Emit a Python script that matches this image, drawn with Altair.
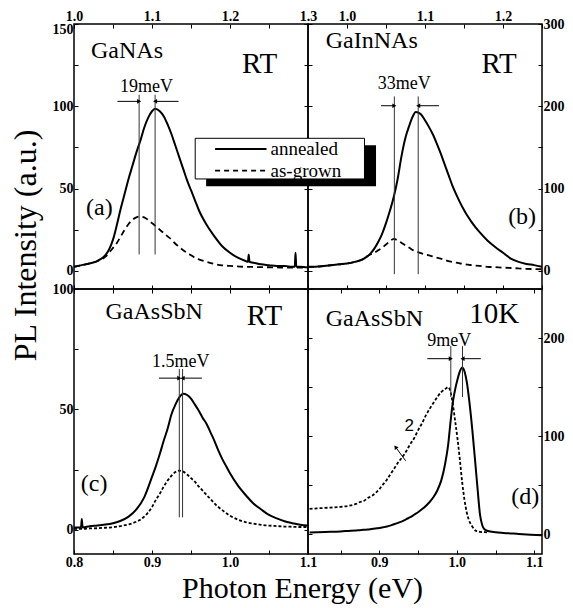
import altair as alt
import pandas as pd

SERIF = "Liberation Serif"

# ---------------- data ----------------
# (a) GaNAs, RT  (top axis 1.0-1.3 eV, left axis 0-150)
a_energy = [1.000, 1.010, 1.020, 1.030, 1.040, 1.045, 1.050, 1.055, 1.060, 1.065,
            1.070, 1.075, 1.080, 1.085, 1.090, 1.095, 1.100, 1.104, 1.110, 1.115,
            1.120, 1.125, 1.130, 1.135, 1.140, 1.145, 1.150, 1.155, 1.160, 1.170,
            1.180, 1.190, 1.200, 1.210, 1.220, 1.223, 1.224, 1.225, 1.230, 1.240,
            1.250, 1.260, 1.270, 1.280, 1.283, 1.284, 1.285, 1.290, 1.300]
a_annealed = [2.5, 3.5, 4.5, 6, 9.5, 13, 19, 28, 38, 47,
              56, 64, 72, 79, 87, 93, 97, 98.5, 97, 94,
              89, 83, 76, 69, 62, 55, 49, 43, 37, 28,
              21, 15, 11, 8, 6, 5.5, 10, 5.5, 5, 4,
              3.5, 3, 3, 2.5, 2.5, 11, 2.5, 2.5, 2]
a_asgrown = [2.5, 3.5, 4.5, 6, 8.5, 11, 14, 17, 21, 25,
             28.5, 31, 32.5, 33, 32.5, 31, 29, 27.5, 25, 23,
             21, 19, 16.5, 14.5, 12.5, 11, 9.5, 8, 7, 5.5,
             4.2, 3.4, 3, 2.7, 2.5, 2.5, 2.5, 2.5, 2.4, 2.3,
             2.2, 2.1, 2, 2, 2, 2, 2, 2, 2]

# (b) GaInNAs, RT  (top axis, right axis 0-300)
b_energy = [0.950, 0.960, 0.970, 0.980, 0.990, 1.000, 1.010, 1.020, 1.025, 1.030,
            1.035, 1.040, 1.045, 1.050, 1.055, 1.060, 1.065, 1.070, 1.075, 1.080,
            1.085, 1.088, 1.092, 1.095, 1.100, 1.105, 1.110, 1.115, 1.120, 1.125,
            1.130, 1.135, 1.140, 1.145, 1.150, 1.155, 1.160, 1.170, 1.180, 1.190,
            1.200, 1.210, 1.220, 1.230, 1.240, 1.250]
b_annealed = [5, 5, 6, 7, 8, 9, 11, 14, 17, 21,
              27, 35, 45, 58, 73, 90, 112, 140, 162, 177,
              189, 193, 192, 190, 183, 175, 166, 155, 143, 130,
              117, 104, 93, 83, 74, 66, 59, 47, 37, 29,
              22, 15, 11, 8.5, 7, 5]
b_asgrown = [5, 5, 6, 7, 8, 9, 11, 14, 17, 20,
             22, 25, 28, 32, 36, 39, 37, 34, 31, 28,
             25, 24, 22.5, 21.5, 20, 19, 17.5, 16, 15, 13.5,
             12, 11, 10, 9, 8.5, 7.5, 7, 6, 5, 4.5,
             4, 3.5, 3, 2.5, 2.2, 2]

# (c) GaAsSbN, RT  (bottom axis 0.8-1.1 eV, left axis 0-100)
c_energy = [0.800, 0.809, 0.810, 0.811, 0.820, 0.830, 0.840, 0.850, 0.860, 0.870,
            0.880, 0.890, 0.900, 0.905, 0.910, 0.915, 0.920, 0.925, 0.930, 0.935,
            0.940, 0.945, 0.950, 0.955, 0.960, 0.965, 0.970, 0.975, 0.980, 0.985,
            0.990, 0.995, 1.000, 1.010, 1.020, 1.030, 1.040, 1.050, 1.060, 1.070,
            1.080, 1.090, 1.100]
c_annealed = [1, 1, 4.5, 1, 1.5, 1.8, 2.2, 2.8, 3.8, 5.5,
              8.5, 13.5, 22, 26.5, 31.5, 37, 42, 48, 52, 55,
              56.5, 56, 54.5, 52, 49.5, 46.5, 44, 40.5, 37, 33,
              29.5, 26.5, 23.5, 18.5, 14.5, 11, 8.5, 6.2, 4.8, 3.6,
              2.8, 2.1, 1.8]
c_asgrown = [0.4, 0.4, 0.4, 0.4, 0.6, 0.7, 0.9, 1.1, 1.6, 2.3,
             3.4, 5.5, 9.5, 12.5, 15, 18, 20.5, 22.5, 24, 24.6,
             24.2, 23, 21.5, 20, 18, 16.3, 14.5, 12.8, 11, 9.5,
             8.2, 7, 5.9, 4.3, 3.2, 2.6, 2.1, 1.8, 1.6, 1.4,
             1.3, 1.2, 1.2]

# (d) GaAsSbN, 10K  (bottom axis, right axis 0-250)
d_energy = [0.810, 0.830, 0.850, 0.860, 0.870, 0.875, 0.880, 0.885, 0.890, 0.895,
            0.900, 0.905, 0.910, 0.915, 0.920, 0.925, 0.930, 0.935, 0.940, 0.945,
            0.950, 0.955, 0.960, 0.965, 0.970, 0.975, 0.980, 0.985, 0.989, 0.992,
            0.995, 0.998, 1.001, 1.004, 1.007, 1.010, 1.013, 1.016, 1.020, 1.024,
            1.027, 1.030, 1.033, 1.036, 1.040, 1.050, 1.060, 1.080, 1.110]
d_annealed = [2, 2.5, 3, 3.5, 4, 4.3, 4.6, 5, 5.5, 6,
              6.5, 7.2, 8, 9.2, 10.5, 12, 13.5, 15.5, 17.5, 20,
              22.5, 25.5, 29, 33, 38, 45, 55, 72, 92, 115,
              135, 148, 158, 166, 170, 166, 155, 137, 107, 72,
              45, 20, 9, 5, 3.5, 2.2, 1.5, 0.5, -1]
d_asgrown = [26, 27, 28, 29, 31, 33, 34, 37, 39, 42,
             46, 51, 56, 62, 68, 74, 79, 85, 92, 98,
             106, 113, 121, 128, 134, 140, 145, 148, 150, 145,
             132, 115, 97, 76, 53, 35, 22, 14, 8, 4,
             3, 2.5, 2.3, 2.2, 2, None, None, None, None]

# axis tick values
a_xticks = [round(1.0 + 0.05 * i, 2) for i in range(7)]
b_xticks = [round(1.0 + 0.05 * i, 2) for i in range(6)]
c_xticks = [round(0.8 + 0.05 * i, 2) for i in range(7)]
d_xticks = [round(0.85 + 0.05 * i, 2) for i in range(6)]
a_yticks = [0, 25, 50, 75, 100, 125, 150]
b_yticks = [0, 50, 100, 150, 200, 250, 300]
c_yticks = [0, 25, 50, 75, 100]
d_yticks = [0, 50, 100, 150, 200, 250]

# annotations (data coordinates)
a_marks = dict(lines=[1.0835, 1.104], lo=10, hi=107, arrow_y=103,
               arrows=[(1.0557, 1.0835), (1.134, 1.104)],
               width_label=("19meV", 1.093, 112),
               name=("GaNAs", 1.068, 133.6), cond=("RT", 1.238, 126), tag=("(a)", 1.0325, 38.3))
b_marks = dict(lines=[1.0607, 1.0913], lo=-4, hi=212, arrow_y=200.7,
               arrows=[(1.0437, 1.0607), (1.118, 1.0913)],
               width_label=("33meV", 1.0735, 227),
               name=("GaInNAs", 1.0317, 279.7), cond=("RT", 1.195, 251.4), tag=("(b)", 1.2245, 65.5))
c_marks = dict(lines=[0.935, 0.9392], lo=5.2, hi=66.8, arrow_y=63,
               arrows=[(0.909, 0.935), (0.964, 0.9392)],
               width_label=("1.5meV", 0.937, 69.6),
               name=("GaAsSbN", 0.9028, 90.3), cond=("RT", 1.0442, 88.9), tag=("(c)", 0.8257, 19))
d_marks = dict(lines=[0.9923, 1.0074], lo=140, hi=192, arrow_y=179,
               arrows=[(0.962, 0.9923), (1.031, 1.0074)],
               width_label=("9meV", 0.9902, 197.4),
               name=("GaAsSbN", 0.8936, 219.5), cond=("10K", 1.0482, 224.5), tag=("(d)", 1.0885, 37.8))

legend_labels = ["annealed", "as-grown"]

XEXPR = "abs(datum.value*10 - round(datum.value*10)) < 0.01 ? format(datum.value, '.1f') : ''"


def yexpr(step):
    return f"datum.value % {step} == 0 ? datum.label : ''"


def axis(orient, values, expr, labels=True, **kw):
    return alt.Axis(orient=orient, values=values, labelExpr=expr, labels=labels,
                    grid=False, domain=False, ticks=True, tickSize=4, tickColor="black",
                    tickWidth=1, offset=-4, labelFont=SERIF, labelFontWeight="bold",
                    labelFontSize=14, labelColor="black", labelPadding=1,
                    labelFlush=False, labelOverlap=False, **kw)


def panel(energy, annealed, asgrown, xdom, ydom, xticks, yticks, ystep,
          xorient, yorient, dash, marks, xt=None, yt=None, extra=None):
    xt = xt or {"title": None}
    yt = yt or {"title": None}
    xs = alt.Scale(domain=xdom, nice=False, zero=False)
    ys = alt.Scale(domain=ydom, nice=False, zero=False)
    mx = "bottom" if xorient == "top" else "top"
    my = "right" if yorient == "left" else "left"
    df = pd.DataFrame({"E": energy, "ann": annealed, "asg": asgrown})
    base = alt.Chart(df)
    asg = base.mark_line(color="black", strokeWidth=1.8, strokeDash=dash,
                         interpolate="monotone").encode(
        x=alt.X("E:Q", scale=xs, axis=axis(mx, xticks, "''", labels=False, title=None)),
        y=alt.Y("asg:Q", scale=ys, axis=axis(my, yticks, "''", labels=False, title=None)))
    ann = base.mark_line(color="black", strokeWidth=2, interpolate="monotone").encode(
        x=alt.X("E:Q", scale=xs, axis=axis(xorient, xticks, XEXPR, **xt)),
        y=alt.Y("ann:Q", scale=ys, axis=axis(yorient, yticks, yexpr(ystep), **yt)))

    def X(f):
        return alt.X(f, scale=xs, axis=None)

    def Y(f):
        return alt.Y(f, scale=ys, axis=None)

    vl = alt.Chart(pd.DataFrame({"E": marks["lines"], "lo": marks["lo"], "hi": marks["hi"]})
                   ).mark_rule(color="#333", strokeWidth=1).encode(
        x=X("E:Q"), y=Y("lo:Q"), y2="hi:Q")
    arr = pd.DataFrame({"x1": [p[0] for p in marks["arrows"]],
                        "x2": [p[1] for p in marks["arrows"]],
                        "y": marks["arrow_y"]})
    shafts = alt.Chart(arr).mark_rule(color="black", strokeWidth=1).encode(
        x=X("x1:Q"), x2="x2:Q", y=Y("y:Q"))
    head_r = alt.Chart(arr.iloc[[0]]).mark_point(shape="triangle-right", filled=True,
                                                 color="black", size=22, opacity=1).encode(
        x=X("x2:Q"), y=Y("y:Q"))
    head_l = alt.Chart(arr.iloc[[1]]).mark_point(shape="triangle-left", filled=True,
                                                 color="black", size=22, opacity=1).encode(
        x=X("x2:Q"), y=Y("y:Q"))

    def txt(item, size, family=SERIF):
        t, x, y = item
        return alt.Chart(pd.DataFrame({"t": [t], "x": [x], "y": [y]})).mark_text(
            font=family, fontSize=size, color="black", baseline="middle", align="center"
        ).encode(x=X("x:Q"), y=Y("y:Q"), text="t:N")

    layers = [asg, ann, vl, shafts, head_r, head_l,
              txt(marks["width_label"], 18), txt(marks["name"], 24),
              txt(marks["cond"], 29), txt(marks["tag"], 24)]
    if extra:
        layers += extra(X, Y)
    return alt.layer(*layers).resolve_axis(x="independent", y="independent").properties(
        width=234, height=265)


def legend_layers(X, Y):
    shadow = alt.Chart(pd.DataFrame({"x1": [0.8194], "x2": [1.0372], "y1": [152.6], "y2": [102.8]})
                       ).mark_rect(color="black").encode(
        x=X("x1:Q"), x2="x2:Q", y=Y("y1:Q"), y2="y2:Q")
    box = alt.Chart(pd.DataFrame({"x1": [0.8054], "x2": [1.0224], "y1": [161.1], "y2": [111.7]})
                    ).mark_rect(fill="white", stroke="black", strokeWidth=1).encode(
        x=X("x1:Q"), x2="x2:Q", y=Y("y1:Q"), y2="y2:Q")
    s1 = alt.Chart(pd.DataFrame({"x1": [0.8309], "x2": [0.8968], "y": [148.1]})
                   ).mark_rule(color="black", strokeWidth=2).encode(
        x=X("x1:Q"), x2="x2:Q", y=Y("y:Q"))
    s2 = alt.Chart(pd.DataFrame({"x1": [0.8309], "x2": [0.8968], "y": [121.8]})
                   ).mark_rule(color="black", strokeWidth=1.8, strokeDash=[5, 4]).encode(
        x=X("x1:Q"), x2="x2:Q", y=Y("y:Q"))
    lt = alt.Chart(pd.DataFrame({"t": legend_labels, "x": [0.9019, 0.9019], "y": [148.1, 121.8]})
                   ).mark_text(font=SERIF, fontSize=19, color="black", align="left",
                               baseline="middle").encode(x=X("x:Q"), y=Y("y:Q"), text="t:N")
    return [shadow, box, s1, s2, lt]


def d_extra(X, Y):
    a = alt.Chart(pd.DataFrame({"x1": [0.934], "x2": [0.921], "y1": [75], "y2": [89]})
                  ).mark_rule(color="black", strokeWidth=1).encode(
        x=X("x1:Q"), x2="x2:Q", y=Y("y1:Q"), y2="y2:Q")
    h = alt.Chart(pd.DataFrame({"x": [0.921], "y": [89]})).mark_point(
        shape="triangle-up", angle=324, filled=True, color="black", size=22, opacity=1
    ).encode(x=X("x:Q"), y=Y("y:Q"))
    t = alt.Chart(pd.DataFrame({"t": ["2"], "x": [0.9387], "y": [110.7]})).mark_text(
        font="Liberation Sans", fontSize=17, color="black").encode(
        x=X("x:Q"), y=Y("y:Q"), text="t:N")
    return [a, h, t]


pa = panel(a_energy, a_annealed, a_asgrown, [1.0, 1.3], [-11, 150], a_xticks, a_yticks, 50,
           "top", "left", [6, 4], a_marks,
           yt=dict(title="PL Intensity (a.u.)", titleFont=SERIF, titleFontSize=32,
                   titleFontWeight="normal", titleColor="black", titleAngle=270,
                   titleX=-43, titleY=221, titleAlign="center", titleBaseline="alphabetic",
                   labelOffset={"condition": {"test": "datum.value == 150", "value": 5},
                                "value": 0}))
pb = panel(b_energy, b_annealed, b_asgrown, [0.95, 1.25], [-22, 300], b_xticks, b_yticks, 100,
           "top", "right", [6, 4], b_marks, extra=legend_layers)
pc = panel(c_energy, c_annealed, c_asgrown, [0.8, 1.1], [-10, 100], c_xticks, c_yticks, 50,
           "bottom", "left", [3, 2], c_marks,
           xt=dict(title="Photon Energy (eV)", titleFont=SERIF, titleFontSize=30,
                   titleFontWeight="normal", titleColor="black", titleX=228, titleY=47,
                   titleAlign="center", titleBaseline="alphabetic"))
pd_ = panel(d_energy, d_annealed, d_asgrown, [0.808, 1.11], [-20, 250], d_xticks, d_yticks, 100,
            "bottom", "right", [3, 2], d_marks, extra=d_extra)

chart = alt.concat(pa, pb, pc, pd_, columns=2, spacing=0, bounds="flush").properties(
    padding=0
).configure_view(stroke="black", strokeWidth=1.5)

chart.save("out.html", embed_options={"renderer": "svg", "actions": False})
